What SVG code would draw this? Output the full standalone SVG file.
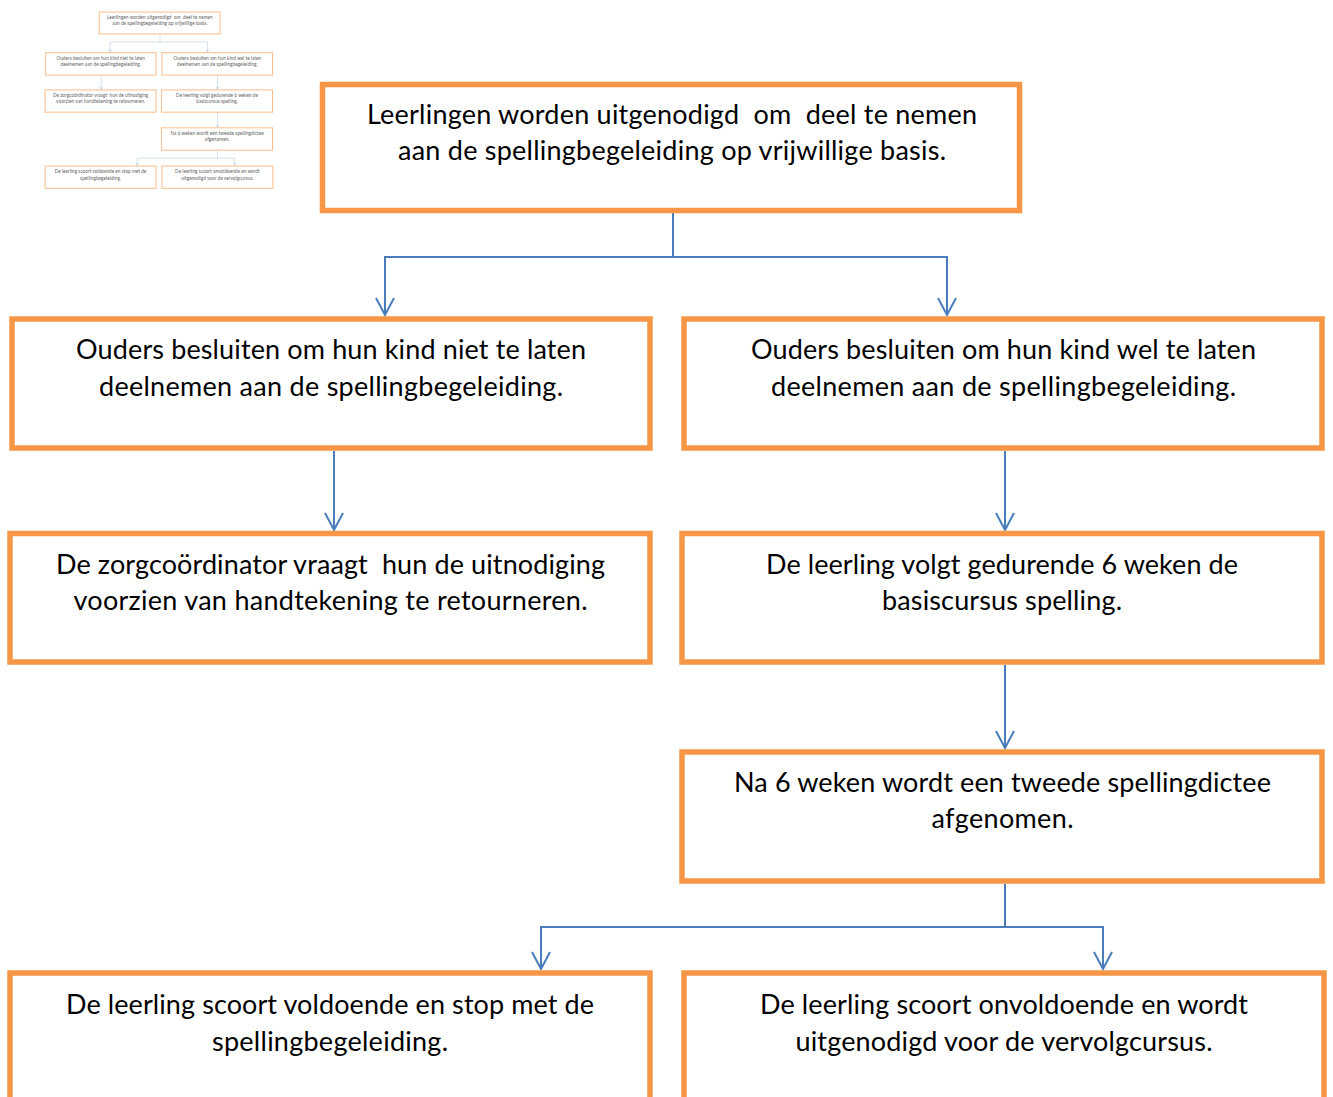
<svg xmlns="http://www.w3.org/2000/svg" xmlns:xlink="http://www.w3.org/1999/xlink" width="1333" height="1097" viewBox="0 0 1333 1097">
<style>
.box{fill:#FFFFFF;stroke:#F79646;stroke-width:5.5}
.t{font-family:Lato,"Open Sans","Liberation Sans",sans-serif;font-size:27px;fill:#000000;text-anchor:middle;white-space:pre}
.c{fill:none;stroke:#4A7EBB;stroke-width:2}
</style>
<defs>
<marker id="arr" markerUnits="userSpaceOnUse" viewBox="-19 -11 21 22" refX="0" refY="0" markerWidth="21" markerHeight="22" orient="auto">
<path d="M-17,-9 L0,0 L-17,9" fill="none" stroke="#4A7EBB" stroke-width="2"/>
</marker>
</defs>
<rect width="1333" height="1097" fill="#FFFFFF"/>
<g id="diagram">
<g id="connectors">
<polyline class="c" points="673,213 673,257 385,257 385,315" marker-end="url(#arr)"/>
<polyline class="c" points="673,257 947,257 947,315" marker-end="url(#arr)"/>
<line class="c" x1="334" y1="451" x2="334" y2="530" marker-end="url(#arr)"/>
<line class="c" x1="1005" y1="451" x2="1005" y2="530" marker-end="url(#arr)"/>
<line class="c" x1="1005" y1="665" x2="1005" y2="748" marker-end="url(#arr)"/>
<polyline class="c" points="1005,884 1005,927 541,927 541,969" marker-end="url(#arr)"/>
<polyline class="c" points="1005,927 1103,927 1103,969" marker-end="url(#arr)"/>
</g>
<g id="n1"><rect class="box" x="322.5" y="84.5" width="697" height="126"/>
<text class="t" x="672" y="124" textLength="610">Leerlingen worden uitgenodigd  om  deel te nemen</text>
<text class="t" x="672" y="160" textLength="548">aan de spellingbegeleiding op vrijwillige basis.</text></g>
<g id="n2"><rect class="box" x="12" y="319" width="638" height="129"/>
<text class="t" x="331" y="359" textLength="510">Ouders besluiten om hun kind niet te laten</text>
<text class="t" x="331" y="396" textLength="464">deelnemen aan de spellingbegeleiding.</text></g>
<g id="n3"><rect class="box" x="684" y="319" width="638" height="129"/>
<text class="t" x="1003.5" y="359" textLength="505">Ouders besluiten om hun kind wel te laten</text>
<text class="t" x="1003.5" y="396" textLength="465">deelnemen aan de spellingbegeleiding.</text></g>
<g id="n4"><rect class="box" x="10" y="533.5" width="640" height="128.5"/>
<text class="t" x="330.5" y="574" textLength="549">De zorgcoördinator vraagt  hun de uitnodiging</text>
<text class="t" x="330.5" y="610" textLength="514">voorzien van handtekening te retourneren.</text></g>
<g id="n5"><rect class="box" x="682" y="533.5" width="640" height="128.5"/>
<text class="t" x="1002" y="574" textLength="472">De leerling volgt gedurende 6 weken de</text>
<text class="t" x="1002" y="610" textLength="240">basiscursus spelling.</text></g>
<g id="n6"><rect class="box" x="682" y="752" width="640" height="129"/>
<text class="t" x="1002.5" y="792" textLength="537">Na 6 weken wordt een tweede spellingdictee</text>
<text class="t" x="1002.5" y="828" textLength="142">afgenomen.</text></g>
<g id="n7"><rect class="box" x="10" y="973" width="640" height="128"/>
<text class="t" x="330" y="1014" textLength="528">De leerling scoort voldoende en stop met de</text>
<text class="t" x="330" y="1051" textLength="236">spellingbegeleiding.</text></g>
<g id="n8"><rect class="box" x="684" y="973" width="640" height="128"/>
<text class="t" x="1004" y="1014" textLength="488">De leerling scoort onvoldoende en wordt</text>
<text class="t" x="1004" y="1051" textLength="417">uitgenodigd voor de vervolgcursus.</text></g>
</g>
<g id="thumbnail" opacity="0.65">
<use xlink:href="#diagram" href="#diagram" transform="translate(43.3,-2.6) scale(0.1734)"/>
</g>
</svg>
